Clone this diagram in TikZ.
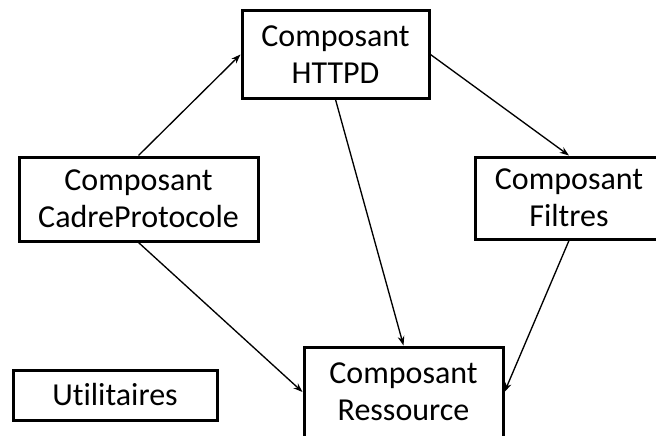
\documentclass[tikz,border=0pt]{standalone}
\usepackage{fontspec}
\setmainfont{Carlito}[Ligatures=NoCommon]
\usetikzlibrary{arrows.meta}

\begin{document}
\begin{tikzpicture}[
    x=0.75pt,
    y=-0.75pt,
    comp/.style={
        rectangle,
        draw,
        line width=2.25pt,
        align=center,
        inner sep=0pt,
        font=\fontsize{24}{28}\selectfont
    },
    arrow/.style={
        line width=1pt,
        -{Stealth[length=7pt, width=5pt]}
    }
]
\useasboundingbox (0,0) rectangle (656,435);

% Components
\node[comp, minimum width=140.25pt, minimum height=65.25pt] (httpd) at (335.5,54.5) {
  Composant\\
  HTTPD
};
\node[comp, minimum width=179.25pt, minimum height=63pt] (cadre) at (138.5,199) {
  Composant\\
  CadreProtocole
};
\node[comp, minimum width=141pt, minimum height=61.5pt] (filtres) at (569,198) {
  Composant\\
  Filtres
};
\node[comp, minimum width=149.25pt, minimum height=67.5pt] (ressource) at (403.5,392) {
  Composant\\
  Ressource
};

% Utilities
\node[comp, minimum width=153pt, minimum height=37.5pt] (utils) at (115,395) {Utilitaires};

% Arrows
\draw[arrow] (cadre.north) -- (httpd.west);
\draw[arrow] (httpd.east) -- (filtres.north);
\draw[arrow] (httpd.south) -- (ressource.north);
\draw[arrow] (cadre.south) -- (ressource.west);
\draw[arrow] (filtres.south) -- (ressource.east);

\end{tikzpicture}
\end{document}
